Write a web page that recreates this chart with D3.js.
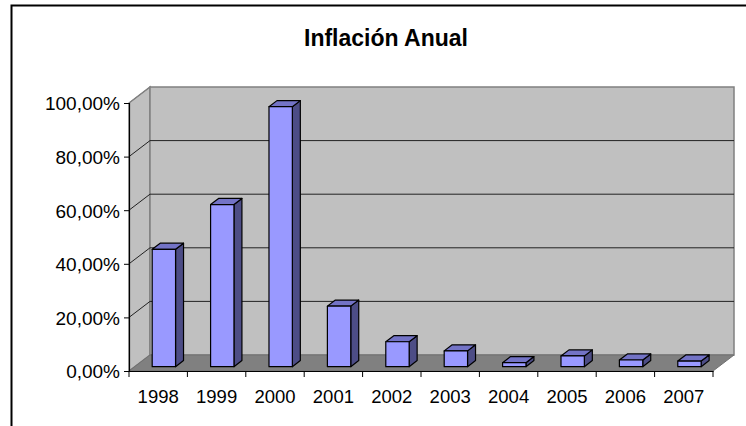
<!DOCTYPE html>
<html>
<head>
<meta charset="utf-8">
<script src="https://cdn.jsdelivr.net/npm/d3@7"></script>
<style>
  html, body { margin: 0; padding: 0; background: #fff; }
  svg { display: block; font-family: "Liberation Sans", Arial, sans-serif; }
</style>
</head>
<body>
<svg id="chart" width="746" height="426"></svg>
<script>
// Annual inflation, percent
const years = ["1998", "1999", "2000", "2001", "2002", "2003", "2004", "2005", "2006", "2007"];
const inflation = [43.8, 60.5, 97.0, 22.6, 9.3, 5.9, 1.5, 4.0, 2.5, 2.1];
const valueTicks = [0, 20, 40, 60, 80, 100];
const chartTitle = "Inflación Anual";

const svg = d3.select("#chart");

// Front plane of the 3D plot box
const plotLeft = 129, plotRight = 713, plotBottom = 371, plotTop = 103;
// Offset of the back plane relative to the front plane
const depthX = 21, depthY = -16;

const x = d3.scaleBand().domain(years).range([plotLeft, plotRight]).paddingInner(0.6).paddingOuter(0.3);
const y = d3.scaleLinear().domain([0, 100]).range([plotBottom, plotTop]);

// Shift a point by a fraction of the box depth
const shift = (px, py, f) => [px + depthX * f, py + depthY * f];
const poly = pts => pts.map(p => p.join(",")).join(" ");

// Outer chart frame
svg.append("rect")
  .attr("x", 11.5).attr("y", 5.5).attr("width", 760).attr("height", 440)
  .attr("fill", "none").attr("stroke", "#000").attr("stroke-width", 2);

// Title
svg.append("text")
  .attr("x", 386).attr("y", 46)
  .attr("text-anchor", "middle")
  .attr("font-size", 23).attr("font-weight", "bold")
  .text(chartTitle);

// Walls
const y0 = y(0), y100 = y(100);
svg.append("polygon")
  .attr("points", poly([[plotLeft, y100], shift(plotLeft, y100, 1), shift(plotLeft, y0, 1), [plotLeft, y0]]))
  .attr("fill", "#c0c0c0").attr("stroke", "#808080").attr("stroke-width", 1.5);
svg.append("polygon")
  .attr("points", poly([shift(plotLeft, y100, 1), shift(plotRight, y100, 1), shift(plotRight, y0, 1), shift(plotLeft, y0, 1)]))
  .attr("fill", "#c0c0c0").attr("stroke", "#808080").attr("stroke-width", 1.5);
// Floor
svg.append("polygon")
  .attr("points", poly([[plotLeft, y0], [plotRight, y0], shift(plotRight, y0, 1), shift(plotLeft, y0, 1)]))
  .attr("fill", "#808080").attr("stroke", "#707070").attr("stroke-width", 1);

// Gridlines on side and back walls
const grid = svg.append("g").attr("stroke", "#222").attr("stroke-width", 1).attr("fill", "none");
valueTicks.filter(v => v > 0 && v < 100).forEach(v => {
  const a = [plotLeft, y(v)], b = shift(plotLeft, y(v), 1), c = shift(plotRight, y(v), 1);
  grid.append("polyline").attr("points", poly([a, b, c]));
});
// Side wall diagonal at the top edge of the value axis
grid.append("line")
  .attr("x1", plotLeft).attr("y1", y100)
  .attr("x2", shift(plotLeft, y100, 1)[0]).attr("y2", shift(plotLeft, y100, 1)[1])
  .attr("stroke", "#808080");

// Bars as 3D prisms
const f0 = 0.27, f1 = 0.65;
const bars = svg.append("g").attr("stroke", "#000").attr("stroke-width", 1.2).attr("stroke-linejoin", "round");
years.forEach((yr, i) => {
  const x0 = x(yr), x1 = x(yr) + x.bandwidth();
  const yb = y(0), yt = y(inflation[i]);
  const fb0 = shift(x0, yb, f0), fb1 = shift(x1, yb, f0);
  const ft0 = shift(x0, yt, f0), ft1 = shift(x1, yt, f0);
  const bt0 = shift(x0, yt, f1), bt1 = shift(x1, yt, f1), bb1 = shift(x1, yb, f1);
  // right side
  bars.append("polygon").attr("points", poly([fb1, ft1, bt1, bb1])).attr("fill", "#4d4d86");
  // top
  bars.append("polygon").attr("points", poly([ft0, ft1, bt1, bt0])).attr("fill", "#7373c6");
  // front
  bars.append("polygon").attr("points", poly([fb0, fb1, ft1, ft0])).attr("fill", "#9999ff");
});

// Value axis
const yAxis = svg.append("g").attr("transform", `translate(${plotLeft},0)`)
  .call(d3.axisLeft(y).tickValues(valueTicks).tickSize(5).tickPadding(4)
    .tickFormat(d => d3.format(".2f")(d).replace(".", ",") + "%"));
yAxis.select(".domain").attr("stroke", "#000").attr("stroke-width", 1.2);
yAxis.selectAll(".tick line").attr("stroke", "#000");
yAxis.selectAll("text").attr("font-size", 19).attr("fill", "#000")
  .attr("font-family", "Liberation Sans, Arial, sans-serif").attr("dy", "0.36em");

// Category axis
const xAxis = svg.append("g").attr("transform", `translate(0,${plotBottom})`)
  .call(d3.axisBottom(x).tickSize(0).tickPadding(19));
xAxis.select(".domain").attr("stroke", "#000").attr("stroke-width", 1.2);
xAxis.selectAll("text").attr("font-size", 18.5).attr("fill", "#000")
  .attr("font-family", "Liberation Sans, Arial, sans-serif").attr("dy", "0.71em");
// Tick marks at category boundaries
const step = x.step();
const bounds = d3.range(years.length + 1).map(i => plotLeft + i * step);
xAxis.selectAll(".boundary").data(bounds).join("line")
  .attr("class", "boundary")
  .attr("x1", d => d).attr("x2", d => d).attr("y1", 0).attr("y2", 6)
  .attr("stroke", "#000");
</script>
</body>
</html>
